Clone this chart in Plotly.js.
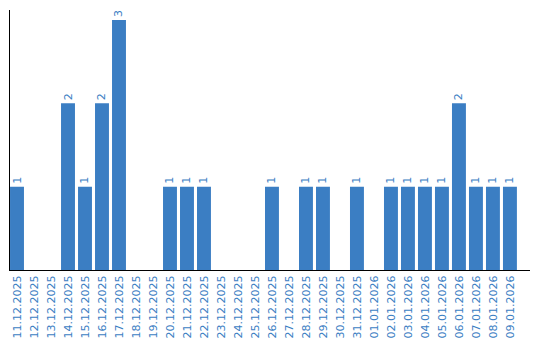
<!DOCTYPE html>
<html>
<head>
<meta charset="utf-8">
<script src="https://cdn.plot.ly/plotly-3.0.1.min.js"></script>
<style>html,body{margin:0;padding:0;background:#fff;}#chart{width:540px;height:340px;}</style>
</head>
<body>
<div id="chart"></div>
<script>
const dates = ["11.12.2025","12.12.2025","13.12.2025","14.12.2025","15.12.2025","16.12.2025","17.12.2025","18.12.2025","19.12.2025","20.12.2025","21.12.2025","22.12.2025","23.12.2025","24.12.2025","25.12.2025","26.12.2025","27.12.2025","28.12.2025","29.12.2025","30.12.2025","31.12.2025","01.01.2026","02.01.2026","03.01.2026","04.01.2026","05.01.2026","06.01.2026","07.01.2026","08.01.2026","09.01.2026"];
const counts = [1,0,0,2,1,2,3,0,0,1,1,1,0,0,0,1,0,1,1,0,1,0,1,1,1,1,2,1,1,1];
const labels = counts.map(v => v > 0 ? String(v) : "");
const blue = "#3b7ec3";

const trace = {
  type: "bar",
  x: dates,
  y: counts,
  text: labels,
  textposition: "outside",
  textangle: -90,
  cliponaxis: false,
  textfont: {family: "DejaVu Sans", size: 11, color: blue},
  marker: {color: blue},
  width: 0.82,
  hoverinfo: "none"
};

const layout = {
  width: 540, height: 340,
  margin: {l: 10, r: 10, t: 10, b: 70, pad: 0},
  paper_bgcolor: "#fff", plot_bgcolor: "#fff",
  showlegend: false,
  xaxis: {
    type: "category",
    range: [-0.412, 30.18],
    tickangle: -90,
    tickfont: {family: "DejaVu Sans", size: 11, color: blue},
    showline: true, linecolor: "#000", linewidth: 1,
    showgrid: false, zeroline: false, ticks: "", ticklen: 0
  },
  yaxis: {
    range: [0, 3.12],
    showline: true, linecolor: "#000", linewidth: 1,
    showgrid: false, zeroline: false, showticklabels: false, ticks: ""
  }
};

Plotly.newPlot("chart", [trace], layout, {staticPlot: true, displayModeBar: false});
</script>
</body>
</html>
